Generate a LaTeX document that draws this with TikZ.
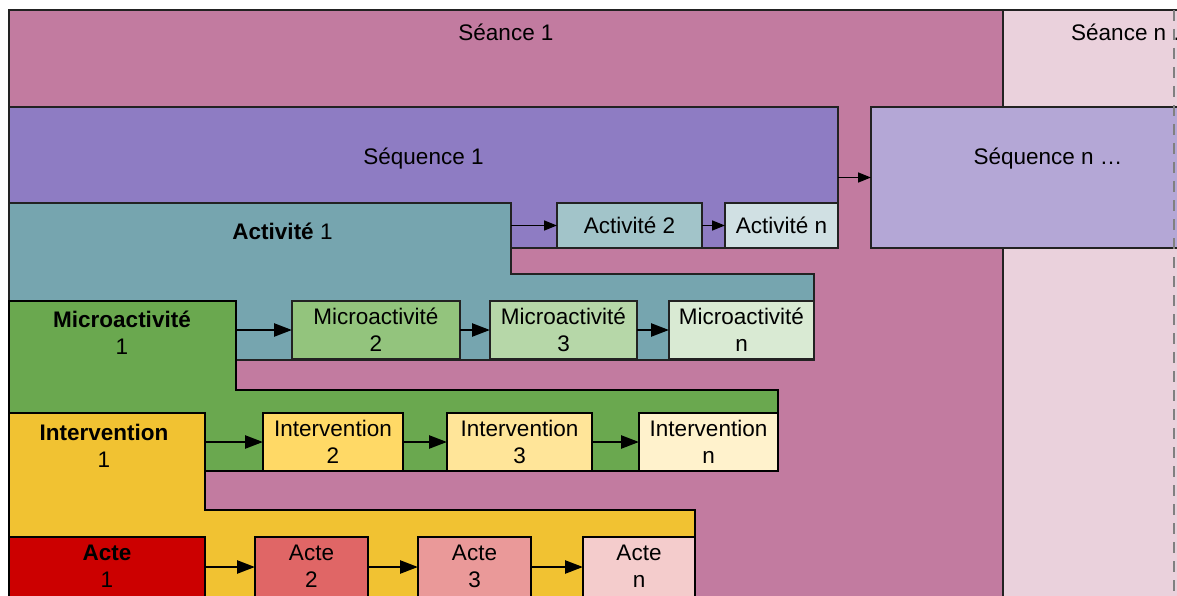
\documentclass[tikz,border=0pt]{standalone}
\usepackage{fontspec}
\setmainfont{Liberation Sans}
\usetikzlibrary{arrows.meta}
\definecolor{seA}{HTML}{C27BA0}
\definecolor{seN}{HTML}{EAD1DC}
\definecolor{sqA}{HTML}{8E7CC3}
\definecolor{sqN}{HTML}{B4A7D6}
\definecolor{acA}{HTML}{76A5AF}
\definecolor{acB}{HTML}{A2C4C9}
\definecolor{acN}{HTML}{D0E0E3}
\definecolor{miA}{HTML}{6AA84F}
\definecolor{miB}{HTML}{93C47D}
\definecolor{miC}{HTML}{B6D7A8}
\definecolor{miN}{HTML}{D9EAD3}
\definecolor{inA}{HTML}{F1C232}
\definecolor{inB}{HTML}{FFD966}
\definecolor{inC}{HTML}{FFE599}
\definecolor{inN}{HTML}{FFF2CC}
\definecolor{atA}{HTML}{CC0000}
\definecolor{atB}{HTML}{E06666}
\definecolor{atC}{HTML}{EA9999}
\definecolor{atN}{HTML}{F4CCCC}
\definecolor{lineD}{HTML}{222222}
\newcommand{\fs}{\fontsize{22.5}{27}\selectfont}
\begin{document}
\begin{tikzpicture}[x=1pt,y=-1pt,
  frame/.style={draw=lineD, line width=1.5pt},
  frameB/.style={draw=black, line width=2.2pt},
  box/.style={draw=lineD, line width=1.5pt, anchor=north west, inner sep=0pt, outer sep=0pt, align=center, font=\fs},
  boxB/.style={box, draw=black, line width=2pt},
  txt/.style={inner sep=0pt, align=center, font=\fs},
  arr/.style={-{Triangle[length=13pt,width=10pt]}, line width=1.6pt, draw=black},
  arrB/.style={-{Triangle[length=18pt,width=13pt]}, line width=2.5pt, draw=black},
  dashln/.style={draw=black!50, line width=1.8pt, dash pattern=on 11pt off 8pt}
]
\useasboundingbox (0,0) rectangle (1177,596);
\fill[white] (0,0) rectangle (1177,596);
\clip (0,0) rectangle (1177,596);

% Seances
\node[box, fill=seA, minimum width=994, minimum height=620] (se1) at (9,10) {};
\node[box, fill=seN, minimum width=250, minimum height=620] (sen) at (1003,10) {};
\node[txt, anchor=base] (se1t) at (506,41) {Séance 1};
\node[txt, anchor=base west] (sent) at (1071,41) {Séance n …};

% Sequences
\node[box, fill=sqA, minimum width=829, minimum height=141] (sq1) at (9,107) {};
\node[box, fill=sqN, minimum width=360, minimum height=141] (sqn) at (871,107) {};
\node[txt, anchor=base] (sq1t) at (423.5,165) {Séquence 1};
\node[txt, anchor=base] (sqnt) at (1048,165) {Séquence n …};

\coordinate (dtop) at (1174,10);
\coordinate (dbot) at (1174,600);
\draw[dashln] (dtop) -- (dbot);

% Activite level
\draw[frame, fill=acA] (9,203) -- (511,203) -- (511,274) -- (814,274) -- (814,360) -- (9,360) -- cycle;
\node[txt, anchor=base] (ac1t) at (282.5,239) {\textbf{Activité} 1};
\coordinate (ac1e) at (511,225.5);
\node[box, fill=acB, minimum width=145, minimum height=45] (ac2) at (557,203) {Activité 2};
\node[box, fill=acN, minimum width=113, minimum height=45] (acn) at (725,203) {Activité n};

% Microactivite level
\draw[frameB, fill=miA] (9,301) -- (236,301) -- (236,390) -- (778,390) -- (778,471) -- (9,471) -- cycle;
\node[txt] (mi1t) at (122,332.7) {\textbf{Microactivité}\\1};
\coordinate (mi1e) at (236,330);
\node[box, fill=miB, minimum width=168, minimum height=58] (mi2) at (292,301) {Microactivité\\2};
\node[box, fill=miC, minimum width=147, minimum height=58] (mi3) at (490,301) {Microactivité\\3};
\node[box, fill=miN, minimum width=145, minimum height=58] (min) at (669,301) {Microactivité\\n};

% Intervention level
\draw[frameB, fill=inA] (9,413) -- (205,413) -- (205,510) -- (695,510) -- (695,620) -- (9,620) -- cycle;
\node[txt] (in1t) at (104,445.5) {\textbf{Intervention}\\1};
\coordinate (in1e) at (205,442);
\node[boxB, fill=inB, minimum width=140, minimum height=58] (in2) at (263,413) {Intervention\\2};
\node[boxB, fill=inC, minimum width=145, minimum height=58] (in3) at (447,413) {Intervention\\3};
\node[boxB, fill=inN, minimum width=139, minimum height=58] (inn) at (639,413) {Intervention\\n};

% Acte level
\coordinate (arow) at (0,567);
\node[boxB, fill=atA, minimum width=196, minimum height=90,
  label={[txt, anchor=center, yshift=-29.2pt]north:{\textbf{Acte}\\1}}] (at1) at (9,537) {};
\node[boxB, fill=atB, minimum width=113, minimum height=90,
  label={[txt, anchor=center, yshift=-29.2pt]north:{Acte\\2}}] (at2) at (255,537) {};
\node[boxB, fill=atC, minimum width=113, minimum height=90,
  label={[txt, anchor=center, yshift=-29.2pt]north:{Acte\\3}}] (at3) at (418,537) {};
\node[boxB, fill=atN, minimum width=112, minimum height=90,
  label={[txt, anchor=center, yshift=-29.2pt]north:{Acte\\n}}] (atn) at (583,537) {};

% Arrows
\draw[arr] (sq1) -- (sqn);
\draw[arr] (ac1e) -- (ac2);
\draw[arr] (ac2) -- (acn);
\draw[arrB] (mi1e) -- (mi2);
\draw[arrB] (mi2) -- (mi3);
\draw[arrB] (mi3) -- (min);
\draw[arrB] (in1e) -- (in2);
\draw[arrB] (in2) -- (in3);
\draw[arrB] (in3) -- (inn);
\draw[arrB] (at1.east|-arow) -- (at2.west|-arow);
\draw[arrB] (at2.east|-arow) -- (at3.west|-arow);
\draw[arrB] (at3.east|-arow) -- (atn.west|-arow);
\end{tikzpicture}
\end{document}
